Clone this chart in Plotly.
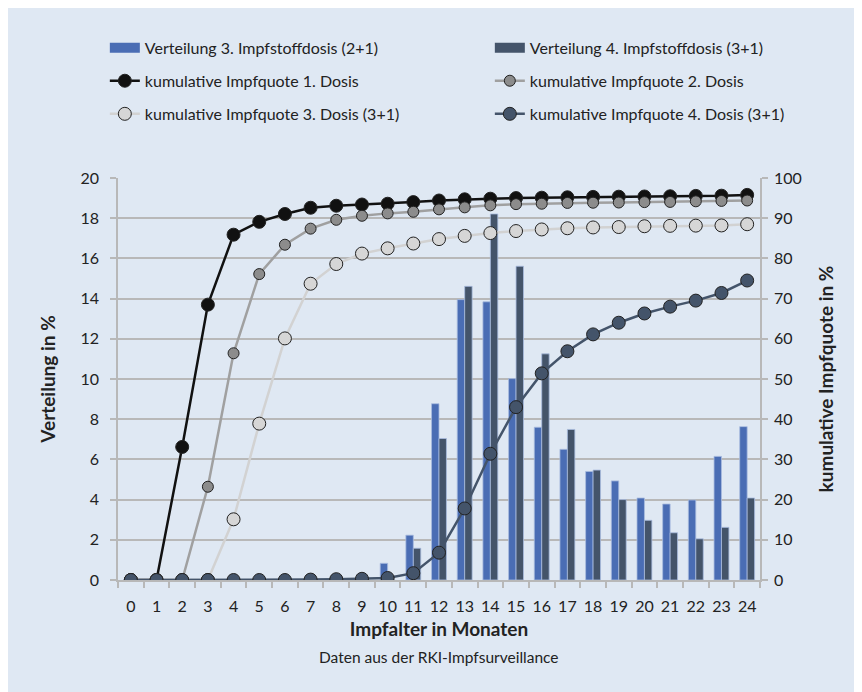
import plotly.graph_objects as go

months = list(range(25))
month_labels = [str(m) for m in months]

bar_dose3 = [0, 0, 0, 0, 0, 0, 0, 0, 0, 0, 0.83, 2.23, 8.77, 13.95, 13.84, 10.02, 7.6, 6.5, 5.4, 4.93, 4.08, 3.78, 3.98, 6.15, 7.63]
bar_dose4 = [0, 0, 0, 0, 0, 0, 0, 0, 0, 0, 0.0, 1.58, 7.04, 14.61, 18.21, 15.61, 11.25, 7.49, 5.47, 4.0, 2.97, 2.35, 2.05, 2.62, 4.08]

cum_dose1 = [0, 0, 33.1, 68.5, 85.9, 89.1, 91.05, 92.6, 93.1, 93.4, 93.6, 94.0, 94.4, 94.7, 94.85, 95.0, 95.1, 95.2, 95.3, 95.35, 95.4, 95.45, 95.55, 95.6, 95.8]
cum_dose2 = [0, 0, 0, 23.2, 56.4, 76.1, 83.4, 87.4, 89.6, 90.6, 91.2, 91.6, 92.2, 92.7, 93.2, 93.5, 93.6, 93.8, 93.85, 93.9, 94.0, 94.05, 94.2, 94.3, 94.4]
cum_dose3 = [0, 0, 0, 0, 15.1, 38.9, 60.1, 73.7, 78.6, 81.2, 82.5, 83.7, 84.8, 85.6, 86.3, 86.8, 87.2, 87.5, 87.7, 87.8, 88.0, 88.1, 88.15, 88.2, 88.5]
cum_dose4 = [0, 0, 0, 0, 0, 0, 0, 0.1, 0.2, 0.3, 0.5, 1.7, 6.8, 17.8, 31.4, 43.0, 51.4, 56.9, 61.1, 64.0, 66.3, 68.0, 69.5, 71.4, 74.5]

names = [
    "Verteilung 3. Impfstoffdosis (2+1)",
    "Verteilung 4. Impfstoffdosis (3+1)",
    "kumulative Impfquote 1. Dosis",
    "kumulative Impfquote 2. Dosis",
    "kumulative Impfquote 3. Dosis (3+1)",
    "kumulative Impfquote 4. Dosis (3+1)",
]

C_BAR3 = "#4a6db4"
C_BAR4 = "#44546a"
BG = "#dfe8f3"
GRID = "#b8b8b8"
TXT = "#222222"
FONT = "Lato"
COL1_W = 340

fig = go.Figure()

# bars
fig.add_trace(go.Bar(x=month_labels, y=bar_dose3, marker=dict(color=C_BAR3, line=dict(color="#a9bde0", width=0.8)),
                     showlegend=False, yaxis="y"))
fig.add_trace(go.Bar(x=month_labels, y=bar_dose4, marker=dict(color=C_BAR4, line=dict(color="#a9bde0", width=0.8)),
                     showlegend=False, yaxis="y"))

# legend-only entries for bars
fig.add_trace(go.Scatter(x=[None], y=[None], mode="lines", line=dict(color=C_BAR3, width=10),
                         name=names[0], legend="legend", legendwidth=COL1_W))
fig.add_trace(go.Scatter(x=[None], y=[None], mode="lines", line=dict(color=C_BAR4, width=10),
                         name=names[1], legend="legend"))

line_specs = [
    (cum_dose1, names[2], "#111111", "#111111", 13, "legend2", COL1_W),
    (cum_dose2, names[3], "#a0a0a0", "#8c8c8c", 11, "legend2", None),
    (cum_dose3, names[4], "#d2d2d2", "#d6d6d6", 13, "legend3", COL1_W),
    (cum_dose4, names[5], "#44546a", "#44546a", 13, "legend3", None),
]
for vals, nm, lc, mc, ms, lg, lw in line_specs:
    kw = {}
    if lw:
        kw["legendwidth"] = lw
    fig.add_trace(go.Scatter(
        x=month_labels, y=vals, yaxis="y2", mode="lines+markers", name=nm, legend=lg,
        line=dict(color=lc, width=2.5),
        marker=dict(color=mc, size=ms, line=dict(color="#222222", width=1)),
        **kw,
    ))

legend_common = dict(orientation="h", xanchor="left", yanchor="middle", bgcolor="rgba(0,0,0,0)",
                     font=dict(family=FONT, size=16, color=TXT))

fig.update_layout(
    width=862, height=692,
    margin=dict(l=110, r=110, t=170, b=120),
    paper_bgcolor=BG,
    plot_bgcolor=BG,
    font=dict(family=FONT, size=16, color=TXT),
    barmode="group", bargap=0.42, bargroupgap=0.0,
    legend=dict(x=-0.0205, y=1.324, **legend_common),
    legend2=dict(x=-0.0205, y=1.2417, **legend_common),
    legend3=dict(x=-0.0205, y=1.1594, **legend_common),
    xaxis=dict(
        type="category", range=[-0.5, 24.5], tickangle=0,
        showline=True, linecolor=GRID, linewidth=1.5,
        ticks="outside", tickson="boundaries", ticklen=6, tickcolor=GRID, tickwidth=1.5,
        ticklabelstandoff=11,
        tickfont=dict(family=FONT, size=16, color=TXT),
        title=dict(text="Impfalter in Monaten", font=dict(family=FONT, size=19, weight="bold", color=TXT), standoff=9),
        showgrid=False,
    ),
    yaxis=dict(
        range=[0, 20], dtick=2, tick0=0,
        showline=True, linecolor=GRID, linewidth=1.5,
        showgrid=True, gridcolor=GRID, gridwidth=1.5,
        ticks="outside", ticklen=6, tickcolor=GRID, tickwidth=1.5,
        ticklabelstandoff=8,
        tickfont=dict(family=FONT, size=16, color=TXT),
        title=dict(text="Verteilung in %", font=dict(family=FONT, size=19, weight="bold", color=TXT), standoff=20),
        zeroline=False,
    ),
    yaxis2=dict(
        range=[0, 100], dtick=10, tick0=0, overlaying="y", side="right",
        showline=True, linecolor=GRID, linewidth=1.5,
        showgrid=False,
        ticks="outside", ticklen=6, tickcolor=GRID, tickwidth=1.5,
        ticklabelstandoff=3,
        tickfont=dict(family=FONT, size=16, color=TXT),
        title=dict(text="kumulative Impfquote in %", font=dict(family=FONT, size=19, weight="bold", color=TXT), standoff=19),
        zeroline=False,
    ),
    annotations=[dict(text="Daten aus der RKI-Impfsurveillance", xref="paper", yref="paper", x=0.5, y=-0.1920,
                      showarrow=False, xanchor="center", yanchor="middle",
                      font=dict(family=FONT, size=15.5, color=TXT))],
)

fig.write_html("out.html")
